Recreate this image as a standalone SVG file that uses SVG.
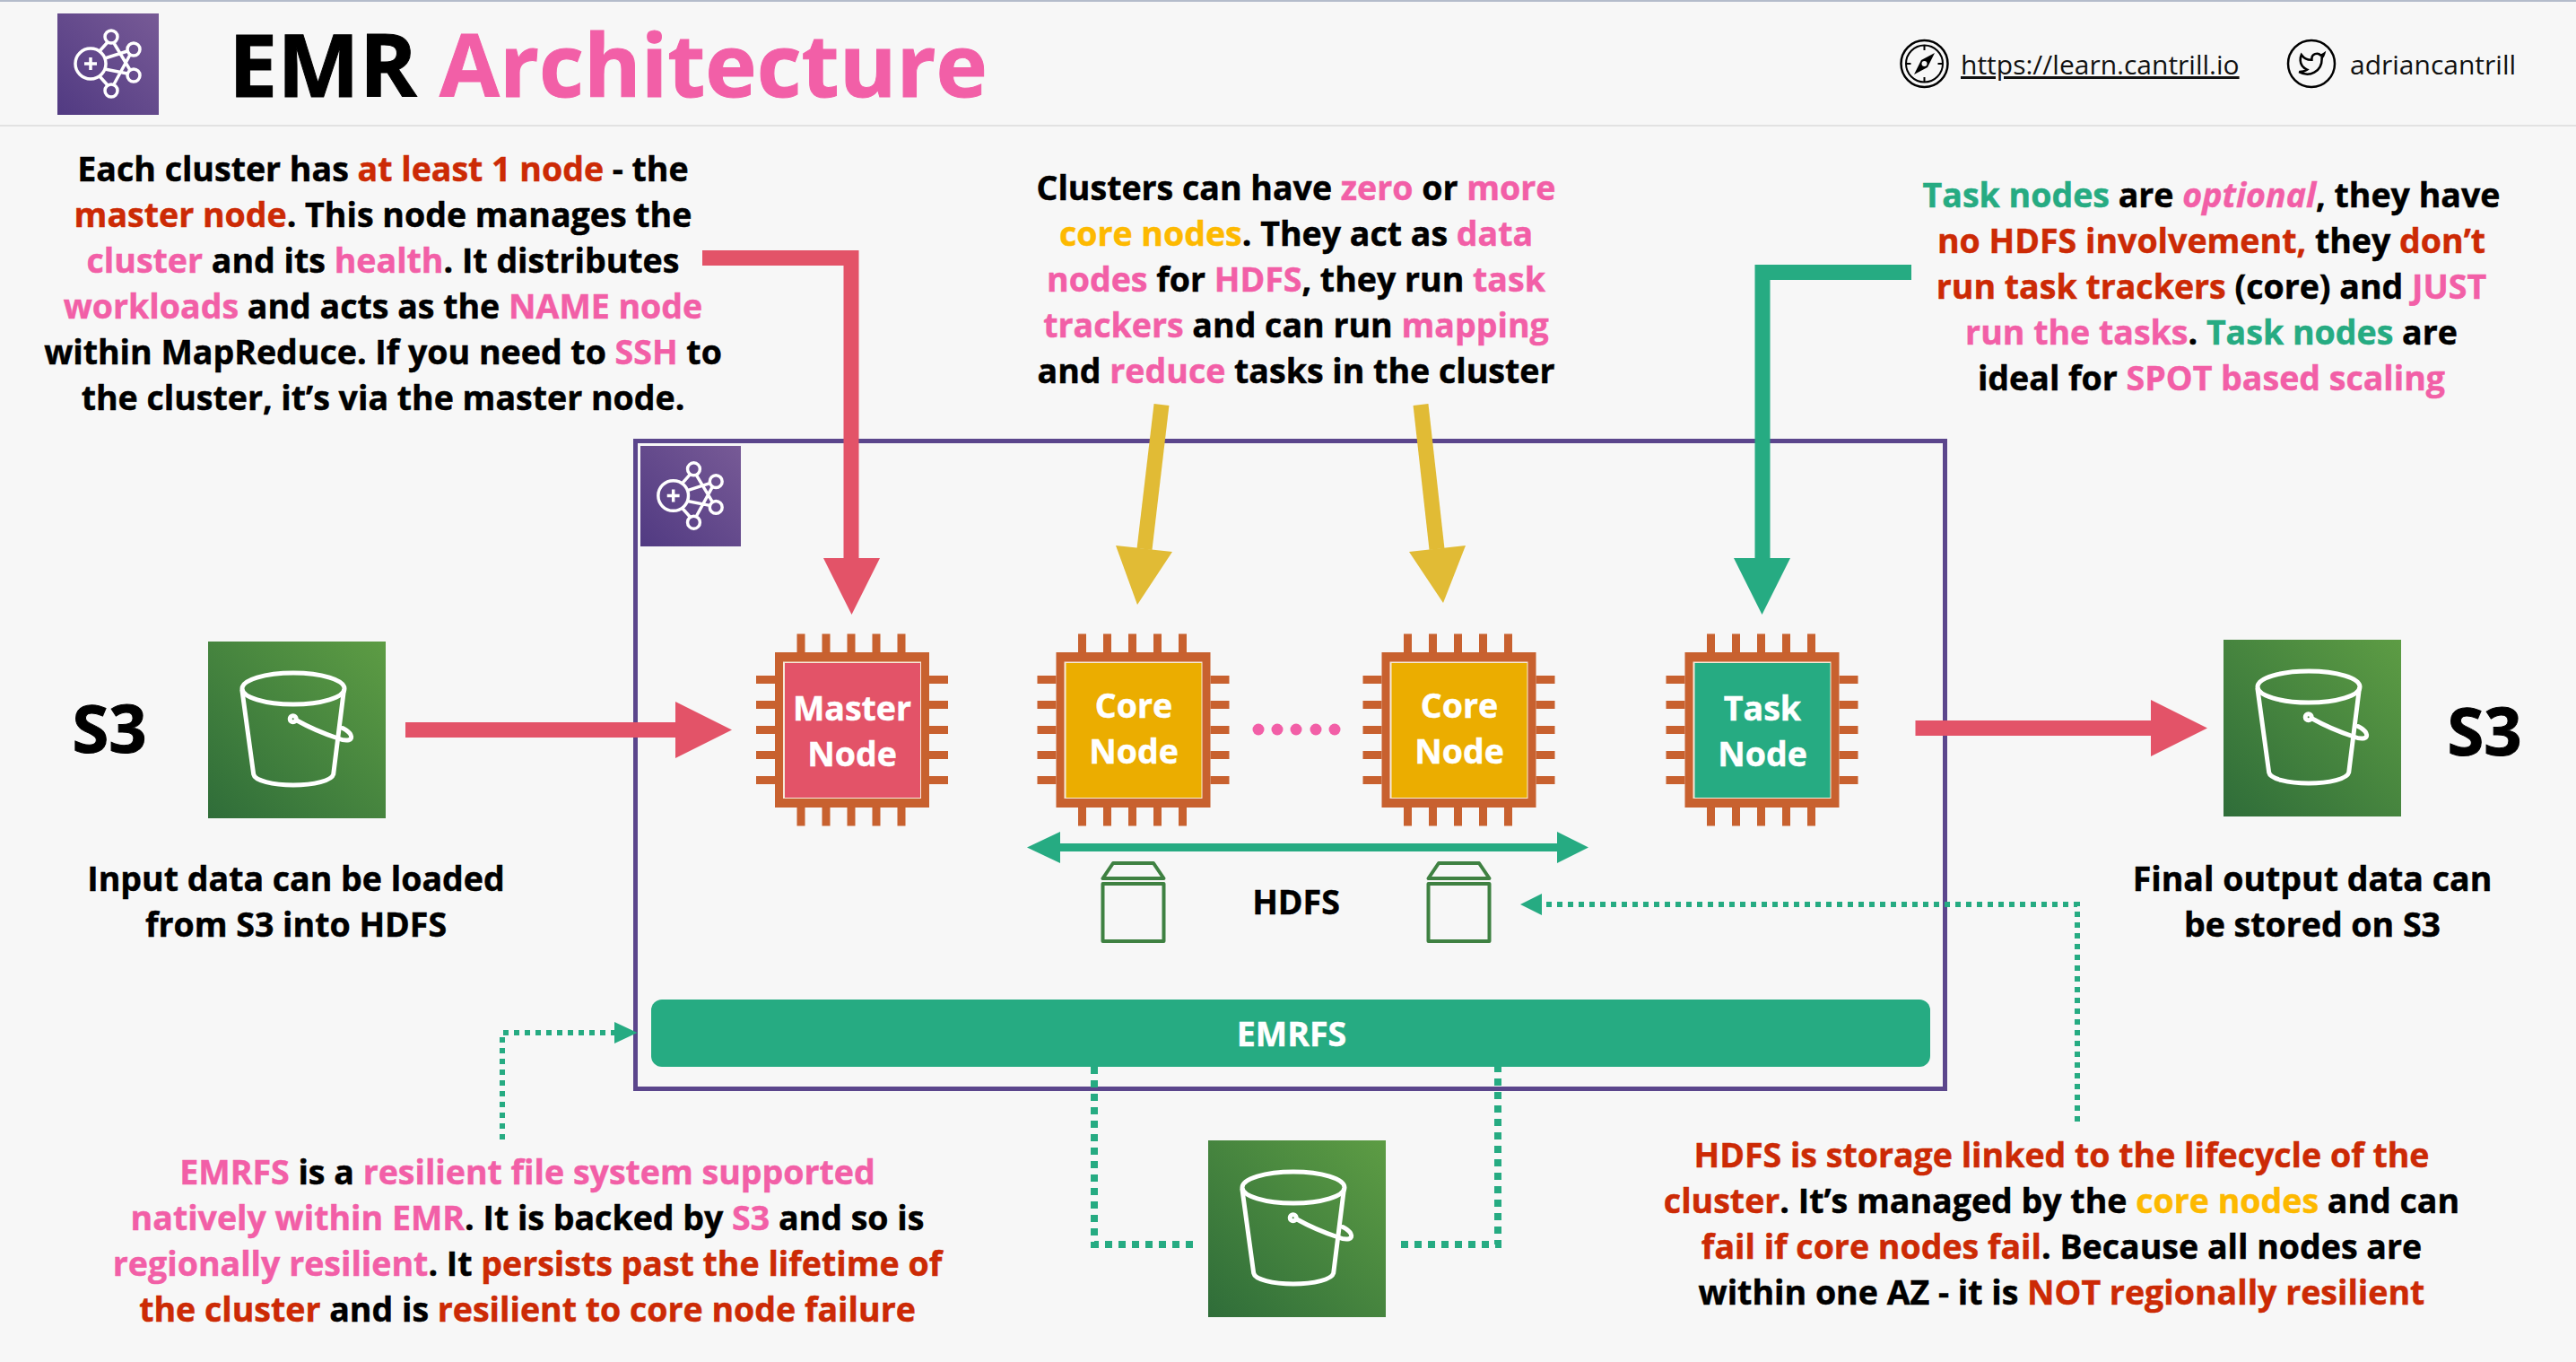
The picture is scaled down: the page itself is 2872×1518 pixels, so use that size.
<svg xmlns="http://www.w3.org/2000/svg" xmlns:xlink="http://www.w3.org/1999/xlink" width="2872" height="1518" viewBox="0 0 2872 1518">
<style>
text{font-family:"Open Sans","Noto Sans","Liberation Sans",sans-serif}
.b{font-size:37.500px;font-weight:700;fill:#000;stroke:#000;stroke-width:.5;text-anchor:middle}
.r{fill:#cc2a05;stroke:#cc2a05}.p{fill:#f25fa7;stroke:#f25fa7}.y{fill:#fdb900;stroke:#fdb900}.g{fill:#26ab82;stroke:#26ab82}
.i{font-style:italic}
.w{font-size:37.500px;font-weight:700;fill:#fff;stroke:#fff;stroke-width:.5;text-anchor:middle}
.pin{fill:#c8612f}
.dot{fill:none;stroke:#26ab82;stroke-width:6;stroke-dasharray:6 6}
.dot2{fill:none;stroke:#26ab82;stroke-width:8;stroke-dasharray:8 7}
.blk{fill:none;stroke:#3f8142;stroke-width:4;stroke-linejoin:round}
.ico{fill:none;stroke:#fff;stroke-width:3.5}
.buk{fill:none;stroke:#fff;stroke-width:5;stroke-linejoin:round;stroke-linecap:round}
.lnk{font-size:30px;fill:#111}
.s3{font-size:74px;font-weight:700;fill:#000;stroke:#000;stroke-width:1;text-anchor:middle}
.ttl{font-size:97px;font-weight:700;stroke:#000;stroke-width:1}
</style>
<defs>
<linearGradient id="gp" x1="0" y1="1" x2="1" y2="0"><stop offset="0" stop-color="#513a82"/><stop offset="1" stop-color="#775a96"/></linearGradient>
<linearGradient id="gg" x1="0" y1="1" x2="1" y2="0"><stop offset="0" stop-color="#2f6d39"/><stop offset="1" stop-color="#5d9c44"/></linearGradient>
<g id="emr">
<rect width="113" height="113" fill="url(#gp)"/>
<g class="ico">
<circle cx="37" cy="56" r="17"/><circle cx="60" cy="26" r="7"/><circle cx="85" cy="40" r="7"/><circle cx="85" cy="69" r="7"/><circle cx="60" cy="86" r="7"/>
<path d="M47 42L56 32M47 70L56 80M53 50L78 42M53 62L78 67M63 33L81 63M63 79L81 46M30 56H44M37 49V63"/>
</g>
</g>
<g id="bucket">
<rect width="198" height="197" fill="url(#gg)"/>
<g class="buk">
<ellipse cx="95" cy="52.500" rx="57" ry="17.500"/>
<path d="M38 55L50.700 148C52 155 72 160 95 160C118 160 138 155 139.700 148L151.300 55"/>
<path d="M99 88C115 97 130 103 145 108C155 112 162 110 159 104C157 100 153 98 150 96.500"/>
<circle cx="94.700" cy="86.300" r="3.500"/>
</g>
</g>
<g id="chip">
<rect x="-86" y="-86.500" width="172" height="173" fill="#c8612f"/>
<rect x="-77" y="-76" width="154" height="152.500" fill="#f7ead9"/>
<g class="pin">
<rect x="-61.500" y="-107" width="9" height="21"/><rect x="-33.500" y="-107" width="9" height="21"/><rect x="-5.500" y="-107" width="9" height="21"/><rect x="22.500" y="-107" width="9" height="21"/><rect x="50.500" y="-107" width="9" height="21"/>
<rect x="-61.500" y="86" width="9" height="21"/><rect x="-33.500" y="86" width="9" height="21"/><rect x="-5.500" y="86" width="9" height="21"/><rect x="22.500" y="86" width="9" height="21"/><rect x="50.500" y="86" width="9" height="21"/>
<rect x="-107" y="-60.500" width="21" height="9"/><rect x="-107" y="-32.500" width="21" height="9"/><rect x="-107" y="-4.500" width="21" height="9"/><rect x="-107" y="23.500" width="21" height="9"/><rect x="-107" y="51.500" width="21" height="9"/>
<rect x="86" y="-60.500" width="21" height="9"/><rect x="86" y="-32.500" width="21" height="9"/><rect x="86" y="-4.500" width="21" height="9"/><rect x="86" y="23.500" width="21" height="9"/><rect x="86" y="51.500" width="21" height="9"/>
</g>
</g>
<g id="block">
<path class="blk" d="M1.500 19H69.500L58 2H13Z"/>
<rect class="blk" x="1.500" y="25" width="68" height="64"/>
</g>
</defs>

<rect width="2872" height="1518" fill="#f7f7f7"/>
<rect width="2872" height="2" fill="#b4bccb"/>
<rect y="139" width="2872" height="2" fill="#e2e2e2"/>

<g id="header">
<use xlink:href="#emr" href="#emr" transform="translate(64 15)"/>
<text class="ttl" x="255" y="108"><tspan>EMR </tspan><tspan class="p">Architecture</tspan></text>
<g id="compass" fill="none" stroke="#000">
<circle cx="2145.500" cy="71" r="26" stroke-width="2.500"/>
<circle cx="2145.500" cy="71" r="20.500" stroke-width="2"/>
<path d="M2145.500 51V56M2145.500 86V91M2125.500 71H2130.500M2160.500 71H2165.500" stroke-width="2"/>
<path d="M2157 59L2149 75L2134 83L2142 67Z" fill="#000" stroke="none"/>
<circle cx="2145.500" cy="71" r="3" fill="#f7f7f7" stroke="none"/>
</g>
<text class="lnk" x="2186" y="83" text-decoration="underline">https://learn.cantrill.io</text>
<g id="twitter" fill="none" stroke="#000">
<circle cx="2577" cy="71" r="26" stroke-width="2.500"/>
<path transform="translate(2562 56) scale(1.270)" stroke-width="2" d="M23 3a10.900 10.900 0 0 1-3 1.530 4.480 4.480 0 0 0-7.860 3v1A10.660 10.660 0 0 1 3 4s-4 9 5 13a11.640 11.640 0 0 1-7 2c9 5 20 0 20-11.500a4.500 4.500 0 0 0-.08-.83A7.720 7.720 0 0 0 23 3z"/>
</g>
<text class="lnk" x="2620" y="83">adriancantrill</text>
</g>

<g id="cluster">
<rect x="708.500" y="491.500" width="1460" height="722" fill="none" stroke="#5b468c" stroke-width="5"/>
<use xlink:href="#emr" href="#emr" transform="translate(714 497) scale(.991)"/>
</g>

<g id="connectors">
<path d="M783 287.500H949V625" fill="none" stroke="#e35368" stroke-width="17"/>
<path d="M918 622H981L949.500 685Z" fill="#e35368"/>
<path d="M1295 451L1276 612" fill="none" stroke="#e1bb35" stroke-width="17"/>
<path d="M1244 608L1307 615L1268 674Z" fill="#e1bb35"/>
<path d="M1584 451L1602 612" fill="none" stroke="#e1bb35" stroke-width="17"/>
<path d="M1571 615L1634 608L1609 672Z" fill="#e1bb35"/>
<path d="M2131 303.500H1965V625" fill="none" stroke="#26ab82" stroke-width="17"/>
<path d="M1933 622H1996L1964.500 685Z" fill="#26ab82"/>
<path d="M452 813.500H755" fill="none" stroke="#e35368" stroke-width="17"/>
<path d="M753 782L816 813.500L753 845Z" fill="#e35368"/>
<path d="M2135.500 811.500H2400" fill="none" stroke="#e35368" stroke-width="17"/>
<path d="M2398 780L2461 811.500L2398 843Z" fill="#e35368"/>
<path d="M1180 944.500H1737" fill="none" stroke="#26ab82" stroke-width="9"/>
<path d="M1182 927V962L1145 944.500Z" fill="#26ab82"/>
<path d="M1736 927V962L1771 944.500Z" fill="#26ab82"/>
<path class="dot" d="M2316 1250V1008H1722"/>
<path d="M1719 996V1020L1695 1008Z" fill="#26ab82"/>
<path class="dot" d="M560 1270V1151H686"/>
<path d="M685 1139V1163L710.500 1151Z" fill="#26ab82"/>
<path class="dot2" d="M1220 1189V1387H1330"/>
<path class="dot2" d="M1562 1387H1670V1189"/>
</g>

<g id="s3-input">
<text class="s3" x="122" y="839">S3</text>
<use xlink:href="#bucket" href="#bucket" transform="translate(232 715)"/>
<text class="b" x="330" y="993">Input data can be loaded</text>
<text class="b" x="330" y="1044">from S3 into HDFS</text>
</g>
<g id="s3-output">
<use xlink:href="#bucket" href="#bucket" transform="translate(2479 713)"/>
<text class="s3" x="2770" y="842">S3</text>
<text class="b" x="2578" y="993">Final output data can</text>
<text class="b" x="2578" y="1044">be stored on S3</text>
</g>
<g id="s3-emrfs">
<use xlink:href="#bucket" href="#bucket" transform="translate(1347 1271)"/>
</g>

<g id="master-node">
<use xlink:href="#chip" href="#chip" transform="translate(950 813.500)"/>
<rect x="875" y="739" width="151" height="150" fill="#e35368"/>
<text class="w" x="950" y="803">Master</text><text class="w" x="950" y="854">Node</text>
</g>
<g id="core-node-1">
<use xlink:href="#chip" href="#chip" transform="translate(1263.500 813.500)"/>
<rect x="1188.500" y="739" width="151" height="150" fill="#ebad00"/>
<text class="w" x="1264" y="800">Core</text><text class="w" x="1264" y="851">Node</text>
</g>
<g id="dots" fill="#f25fa7"><circle cx="1403" cy="813" r="6.500"/><circle cx="1424" cy="813" r="6.500"/><circle cx="1445" cy="813" r="6.500"/><circle cx="1467" cy="813" r="6.500"/><circle cx="1488" cy="813" r="6.500"/></g>
<g id="core-node-2">
<use xlink:href="#chip" href="#chip" transform="translate(1626.500 813.500)"/>
<rect x="1551.500" y="739" width="151" height="150" fill="#ebad00"/>
<text class="w" x="1627" y="800">Core</text><text class="w" x="1627" y="851">Node</text>
</g>
<g id="task-node">
<use xlink:href="#chip" href="#chip" transform="translate(1964.500 813.500)"/>
<rect x="1889.500" y="739" width="151" height="150" fill="#26ab82"/>
<text class="w" x="1965" y="803">Task</text><text class="w" x="1965" y="854">Node</text>
</g>

<g id="hdfs">
<use xlink:href="#block" href="#block" transform="translate(1228 960)"/>
<use xlink:href="#block" href="#block" transform="translate(1591 960)"/>
<text class="b" x="1445" y="1019">HDFS</text>
</g>
<g id="emrfs">
<rect x="726" y="1114" width="1426" height="75" rx="12" fill="#26ab82"/>
<text class="w" x="1440" y="1166">EMRFS</text>
</g>

<g id="note-master">
<text class="b" x="427" y="202">Each cluster has <tspan class="r">at least 1 node</tspan> - the</text>
<text class="b" x="427" y="253"><tspan class="r">master node</tspan>. This node manages the</text>
<text class="b" x="427" y="304"><tspan class="p">cluster</tspan> and its <tspan class="p">health</tspan>. It distributes</text>
<text class="b" x="427" y="355"><tspan class="p">workloads</tspan> and acts as the <tspan class="p">NAME node</tspan></text>
<text class="b" x="427" y="406">within MapReduce. If you need to <tspan class="p">SSH</tspan> to</text>
<text class="b" x="427" y="457">the cluster, it’s via the master node.</text>
</g>
<g id="note-core">
<text class="b" x="1445" y="223">Clusters can have <tspan class="p">zero</tspan> or <tspan class="p">more</tspan></text>
<text class="b" x="1445" y="274"><tspan class="y">core nodes</tspan>. They act as <tspan class="p">data</tspan></text>
<text class="b" x="1445" y="325"><tspan class="p">nodes</tspan> for <tspan class="p">HDFS</tspan>, they run <tspan class="p">task</tspan></text>
<text class="b" x="1445" y="376"><tspan class="p">trackers</tspan> and can run <tspan class="p">mapping</tspan></text>
<text class="b" x="1445" y="427">and <tspan class="p">reduce</tspan> tasks in the cluster</text>
</g>
<g id="note-task">
<text class="b" x="2465.500" y="231"><tspan class="g">Task nodes</tspan> are <tspan class="p i">optional</tspan>, they have</text>
<text class="b" x="2465.500" y="282"><tspan class="r">no HDFS involvement,</tspan> they <tspan class="r">don’t</tspan></text>
<text class="b" x="2465.500" y="333"><tspan class="r">run task trackers</tspan> (core) and <tspan class="p">JUST</tspan></text>
<text class="b" x="2465.500" y="384"><tspan class="p">run the tasks</tspan>. <tspan class="g">Task nodes</tspan> are</text>
<text class="b" x="2465.500" y="435">ideal for <tspan class="p">SPOT based scaling</tspan></text>
</g>
<g id="note-emrfs">
<text class="b" x="588" y="1320"><tspan class="p">EMRFS</tspan> is a <tspan class="p">resilient file system supported</tspan></text>
<text class="b" x="588" y="1371"><tspan class="p">natively within EMR</tspan>. It is backed by <tspan class="p">S3</tspan> and so is</text>
<text class="b" x="588" y="1422"><tspan class="p">regionally resilient</tspan>. It <tspan class="r">persists past the lifetime of</tspan></text>
<text class="b" x="588" y="1473"><tspan class="r">the cluster</tspan> and is <tspan class="r">resilient to core node failure</tspan></text>
</g>
<g id="note-hdfs">
<text class="b" x="2298.500" y="1301"><tspan class="r">HDFS is storage linked to the lifecycle of the</tspan></text>
<text class="b" x="2298.500" y="1352"><tspan class="r">cluster</tspan>. It’s managed by the <tspan class="y">core nodes</tspan> and can</text>
<text class="b" x="2298.500" y="1403"><tspan class="r">fail if core nodes fail</tspan>. Because all nodes are</text>
<text class="b" x="2298.500" y="1454">within one AZ - it is <tspan class="r">NOT regionally resilient</tspan></text>
</g>
</svg>
